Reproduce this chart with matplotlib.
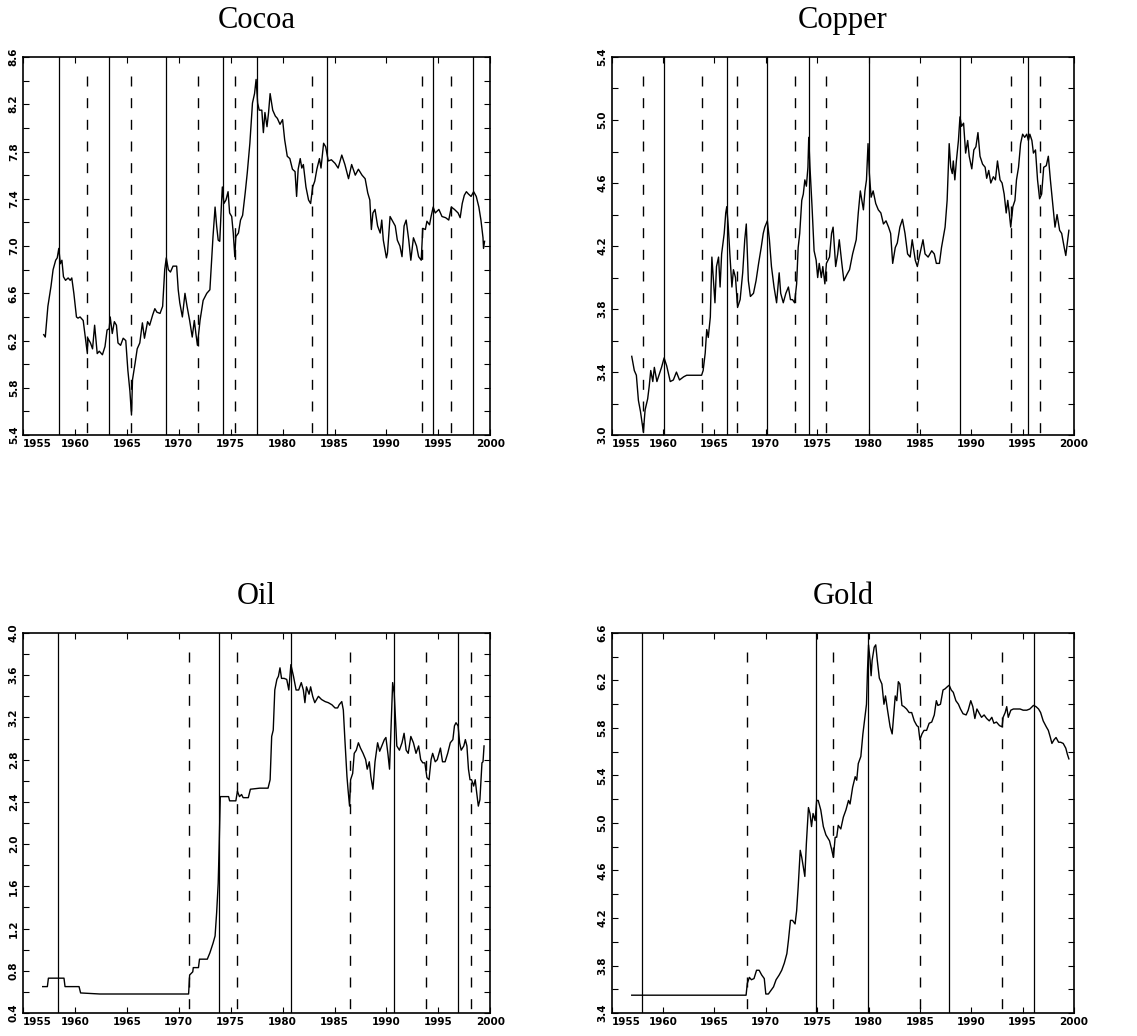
import matplotlib
matplotlib.use("Agg")
import matplotlib.pyplot as plt
import numpy as np

# ---- Cocoa ----
cocoa_year = [1957.0, 1957.15, 1957.4, 1957.7, 1957.9, 1958.15, 1958.3, 1958.45, 1958.6, 1958.75,
              1958.9, 1959.1, 1959.35, 1959.55, 1959.7, 1959.9, 1960.15, 1960.3, 1960.5, 1960.8,
              1961.0, 1961.2, 1961.25, 1961.5, 1961.7, 1961.9, 1962.15, 1962.35, 1962.65, 1962.9,
              1963.1, 1963.3, 1963.4, 1963.6, 1963.8, 1964.0, 1964.15, 1964.4, 1964.65, 1964.9,
              1965.1, 1965.3, 1965.45, 1965.55, 1965.8, 1966.0, 1966.25, 1966.5, 1966.7, 1967.0,
              1967.2, 1967.5, 1967.7, 1967.9, 1968.2, 1968.45, 1968.65, 1968.8, 1969.0, 1969.2,
              1969.45, 1969.8, 1969.95, 1970.1, 1970.35, 1970.6, 1970.8, 1971.05, 1971.3, 1971.5,
              1971.65, 1971.8, 1972.05, 1972.35, 1972.7, 1973.0, 1973.3, 1973.5, 1973.65, 1973.8,
              1973.95, 1974.1, 1974.2, 1974.35, 1974.55, 1974.75, 1974.9, 1975.1, 1975.25, 1975.4,
              1975.5, 1975.75, 1975.95, 1976.15, 1976.4, 1976.6, 1976.85, 1977.1, 1977.3, 1977.45,
              1977.6, 1977.75, 1978.0, 1978.15, 1978.3, 1978.5, 1978.65, 1978.8, 1979.05, 1979.3,
              1979.5, 1979.75, 1980.0, 1980.2, 1980.45, 1980.7, 1980.95, 1981.2, 1981.35, 1981.5,
              1981.7, 1981.85, 1982.0, 1982.25, 1982.5, 1982.7, 1982.9, 1983.1, 1983.3, 1983.55,
              1983.7, 1983.95, 1984.15, 1984.4, 1984.7, 1985.05, 1985.35, 1985.7, 1986.0, 1986.35,
              1986.65, 1987.0, 1987.3, 1987.65, 1987.95, 1988.2, 1988.4, 1988.55, 1988.7, 1988.9,
              1989.15, 1989.4, 1989.55, 1989.7, 1990.0, 1990.1, 1990.35, 1990.6, 1990.85, 1991.05,
              1991.3, 1991.5, 1991.7, 1991.9, 1992.15, 1992.35, 1992.6, 1992.9, 1993.1, 1993.35,
              1993.5, 1993.75, 1993.9, 1994.15, 1994.3, 1994.5, 1994.7, 1995.05, 1995.35, 1995.7,
              1996.0, 1996.25, 1996.55, 1996.9, 1997.1, 1997.3, 1997.5, 1997.7, 1997.9, 1998.15,
              1998.4, 1998.65, 1998.9, 1999.1, 1999.3, 1999.35, 1999.45]
cocoa_val = [6.25, 6.23, 6.49, 6.66, 6.80, 6.88, 6.90, 6.98, 6.85, 6.88,
             6.74, 6.71, 6.73, 6.71, 6.73, 6.60, 6.40, 6.39, 6.40, 6.37,
             6.23, 6.09, 6.22, 6.18, 6.13, 6.33, 6.09, 6.11, 6.08, 6.15,
             6.29, 6.30, 6.40, 6.26, 6.36, 6.33, 6.18, 6.16, 6.22, 6.20,
             5.95, 5.77, 5.57, 5.87, 6.01, 6.13, 6.18, 6.35, 6.22, 6.36,
             6.33, 6.42, 6.47, 6.44, 6.43, 6.49, 6.80, 6.90, 6.80, 6.78,
             6.83, 6.83, 6.63, 6.52, 6.40, 6.60, 6.49, 6.37, 6.23, 6.37,
             6.26, 6.16, 6.37, 6.54, 6.60, 6.63, 7.08, 7.33, 7.17, 7.05,
             7.04, 7.33, 7.50, 7.36, 7.39, 7.46, 7.28, 7.25, 7.11, 6.91,
             7.08, 7.11, 7.22, 7.26, 7.45, 7.62, 7.87, 8.21, 8.29, 8.41,
             8.21, 8.15, 8.15, 7.96, 8.13, 8.01, 8.13, 8.29, 8.15, 8.10,
             8.08, 8.03, 8.07, 7.90, 7.76, 7.74, 7.65, 7.63, 7.42, 7.65,
             7.74, 7.66, 7.69, 7.50, 7.39, 7.36, 7.50, 7.55, 7.65, 7.74,
             7.66, 7.87, 7.84, 7.72, 7.73, 7.70, 7.66, 7.77, 7.69, 7.57,
             7.69, 7.60, 7.65, 7.60, 7.57, 7.45, 7.39, 7.14, 7.28, 7.31,
             7.17, 7.11, 7.22, 7.05, 6.90, 6.94, 7.25, 7.21, 7.17, 7.05,
             7.00, 6.91, 7.17, 7.22, 7.05, 6.88, 7.07, 7.00, 6.91, 6.88,
             7.15, 7.14, 7.21, 7.18, 7.25, 7.33, 7.28, 7.31, 7.25, 7.24,
             7.22, 7.33, 7.31, 7.28, 7.24, 7.36, 7.43, 7.46, 7.44, 7.42,
             7.46, 7.42, 7.33, 7.22, 7.07, 6.98, 7.04]
cocoa_solid = [1958.45, 1963.3, 1968.8, 1974.3, 1977.5, 1984.3, 1994.5, 1998.3]
cocoa_dashed = [1961.2, 1965.45, 1971.9, 1975.4, 1982.8, 1993.4, 1996.2]

# ---- Copper ----
copper_year = [1956.95, 1957.2, 1957.4, 1957.6, 1957.8, 1958.08, 1958.25, 1958.5, 1958.65, 1958.8,
               1959.0, 1959.15, 1959.4, 1959.65, 1959.85, 1960.1, 1960.35, 1960.7, 1961.0, 1961.3,
               1961.6, 1962.0, 1962.3, 1962.95, 1963.75, 1963.9, 1964.1, 1964.25, 1964.4, 1964.6,
               1964.75, 1964.9, 1965.05, 1965.2, 1965.4, 1965.55, 1965.7, 1965.95, 1966.1, 1966.2,
               1966.35, 1966.5, 1966.7, 1966.85, 1967.05, 1967.25, 1967.5, 1967.75, 1967.95, 1968.1,
               1968.3, 1968.5, 1968.8, 1969.05, 1969.3, 1969.55, 1969.75, 1969.9, 1970.15, 1970.35,
               1970.55, 1970.8, 1971.05, 1971.3, 1971.45, 1971.7, 1971.95, 1972.2, 1972.4, 1972.6,
               1972.8, 1973.0, 1973.15, 1973.3, 1973.5, 1973.65, 1973.8, 1973.95, 1974.1, 1974.18,
               1974.3, 1974.5, 1974.7, 1974.9, 1975.05, 1975.2, 1975.4, 1975.55, 1975.75, 1975.9,
               1976.2, 1976.4, 1976.55, 1976.8, 1977.0, 1977.15, 1977.4, 1977.6, 1977.9, 1978.15,
               1978.45, 1978.8, 1979.0, 1979.2, 1979.35, 1979.5, 1979.65, 1979.8, 1979.95, 1980.08,
               1980.25, 1980.45, 1980.7, 1980.95, 1981.2, 1981.45, 1981.7, 1981.95, 1982.15, 1982.35,
               1982.6, 1982.8, 1983.05, 1983.3, 1983.55, 1983.8, 1984.05, 1984.25, 1984.55, 1984.75,
               1985.0, 1985.3, 1985.5, 1985.8, 1986.15, 1986.4, 1986.6, 1986.9, 1987.1, 1987.45,
               1987.65, 1987.85, 1988.0, 1988.15, 1988.25, 1988.4, 1988.55, 1988.75, 1988.9, 1989.05,
               1989.25, 1989.45, 1989.65, 1989.8, 1990.05, 1990.25, 1990.45, 1990.65, 1990.85, 1991.1,
               1991.35, 1991.5, 1991.7, 1991.9, 1992.15, 1992.35, 1992.55, 1992.8, 1993.0, 1993.2,
               1993.4, 1993.55, 1993.7, 1993.84, 1994.05, 1994.25, 1994.4, 1994.6, 1994.8, 1995.0,
               1995.2, 1995.4, 1995.56, 1995.7, 1995.9, 1996.05, 1996.25, 1996.45, 1996.65, 1996.85,
               1997.05, 1997.3, 1997.5, 1997.7, 1997.95, 1998.15, 1998.35, 1998.6, 1998.8, 1999.05,
               1999.2, 1999.35, 1999.5]
copper_val = [3.50, 3.41, 3.38, 3.22, 3.15, 3.02, 3.16, 3.23, 3.31, 3.41,
              3.34, 3.43, 3.34, 3.39, 3.43, 3.49, 3.44, 3.34, 3.35, 3.40,
              3.35, 3.37, 3.38, 3.38, 3.38, 3.41, 3.52, 3.67, 3.62, 3.75,
              4.13, 3.98, 3.84, 4.07, 4.13, 3.94, 4.15, 4.28, 4.41, 4.45,
              4.32, 4.15, 3.94, 4.05, 4.00, 3.81, 3.86, 4.03, 4.24, 4.34,
              3.98, 3.88, 3.90, 3.98, 4.09, 4.19, 4.28, 4.32, 4.36, 4.24,
              4.07, 3.94, 3.84, 4.03, 3.90, 3.84, 3.90, 3.94, 3.86, 3.86,
              3.84, 3.96, 4.19, 4.28, 4.49, 4.53, 4.62, 4.58, 4.70, 4.89,
              4.70, 4.45, 4.17, 4.11, 4.00, 4.09, 4.00, 4.07, 3.96, 4.09,
              4.13, 4.28, 4.32, 4.07, 4.15, 4.24, 4.09, 3.98, 4.02, 4.05,
              4.15, 4.24, 4.41, 4.55, 4.49, 4.43, 4.55, 4.62, 4.85, 4.66,
              4.51, 4.55, 4.47, 4.43, 4.41, 4.34, 4.36, 4.32, 4.28, 4.09,
              4.19, 4.22, 4.32, 4.37, 4.28, 4.15, 4.13, 4.24, 4.11, 4.07,
              4.15, 4.24, 4.15, 4.13, 4.17, 4.15, 4.09, 4.09, 4.19, 4.32,
              4.49, 4.85, 4.70, 4.66, 4.74, 4.62, 4.74, 4.87, 5.02, 4.96,
              4.98, 4.79, 4.87, 4.77, 4.69, 4.81, 4.83, 4.92, 4.77, 4.72,
              4.70, 4.63, 4.68, 4.60, 4.64, 4.62, 4.74, 4.62, 4.60, 4.53,
              4.41, 4.49, 4.41, 4.32, 4.45, 4.49, 4.62, 4.70, 4.85, 4.91,
              4.89, 4.91, 4.87, 4.91, 4.87, 4.79, 4.81, 4.62, 4.50, 4.53,
              4.70, 4.71, 4.77, 4.62, 4.45, 4.32, 4.40, 4.30, 4.28, 4.19,
              4.14, 4.22, 4.30]
copper_solid = [1960.1, 1966.26, 1970.15, 1974.18, 1980.08, 1988.9, 1995.56]
copper_dashed = [1958.08, 1963.83, 1967.23, 1972.8, 1975.86, 1984.75, 1993.84, 1996.7]

# ---- Oil ----
oil_year = [1956.9, 1957.35, 1957.45, 1958.95, 1959.05, 1960.4, 1960.55, 1962.4, 1965.6, 1968.8,
            1970.95, 1971.05, 1971.35, 1971.4, 1971.9, 1972.0, 1972.75, 1973.0, 1973.3, 1973.5,
            1973.65, 1973.8, 1973.9, 1974.0, 1974.8, 1974.9, 1975.5, 1975.65, 1975.85, 1976.05,
            1976.2, 1976.7, 1976.9, 1977.8, 1978.6, 1978.8, 1978.95, 1979.1, 1979.25, 1979.45,
            1979.6, 1979.75, 1979.9, 1980.15, 1980.4, 1980.6, 1980.8, 1981.05, 1981.3, 1981.55,
            1981.8, 1982.0, 1982.15, 1982.3, 1982.55, 1982.7, 1982.9, 1983.1, 1983.45, 1983.75,
            1984.1, 1984.4, 1984.75, 1985.05, 1985.3, 1985.45, 1985.7, 1985.85, 1986.0, 1986.2,
            1986.3, 1986.45, 1986.55, 1986.75, 1986.9, 1987.1, 1987.3, 1987.5, 1987.75, 1988.0,
            1988.15, 1988.35, 1988.5, 1988.7, 1988.9, 1989.15, 1989.35, 1989.55, 1989.8, 1989.95,
            1990.15, 1990.3, 1990.45, 1990.6, 1990.75, 1990.9, 1991.0, 1991.25, 1991.5, 1991.7,
            1991.9, 1992.1, 1992.35, 1992.6, 1992.85, 1993.1, 1993.3, 1993.5, 1993.7, 1993.9,
            1994.1, 1994.3, 1994.45, 1994.7, 1994.9, 1995.2, 1995.4, 1995.65, 1995.9, 1996.15,
            1996.4, 1996.55, 1996.7, 1996.9, 1997.05, 1997.2, 1997.45, 1997.6, 1997.75, 1997.9,
            1998.05, 1998.2, 1998.4, 1998.55, 1998.7, 1998.85, 1999.0, 1999.2, 1999.3, 1999.4]
oil_val = [0.65, 0.65, 0.73, 0.73, 0.65, 0.65, 0.59, 0.58, 0.58, 0.58,
           0.58, 0.76, 0.79, 0.83, 0.83, 0.91, 0.91, 0.97, 1.06, 1.13,
           1.35, 1.63, 2.01, 2.45, 2.45, 2.41, 2.41, 2.50, 2.45, 2.47,
           2.44, 2.44, 2.52, 2.53, 2.53, 2.61, 3.02, 3.08, 3.46, 3.56,
           3.59, 3.67, 3.57, 3.57, 3.56, 3.46, 3.70, 3.59, 3.46, 3.46,
           3.53, 3.46, 3.34, 3.49, 3.42, 3.49, 3.40, 3.34, 3.40, 3.37,
           3.35, 3.34, 3.32, 3.29, 3.29, 3.32, 3.35, 3.27, 2.99, 2.64,
           2.52, 2.36, 2.61, 2.67, 2.86, 2.89, 2.96, 2.91, 2.86, 2.80,
           2.71, 2.78, 2.64, 2.52, 2.78, 2.96, 2.88, 2.93, 2.99, 3.01,
           2.85, 2.71, 3.12, 3.53, 3.43, 3.12, 2.93, 2.89, 2.96, 3.05,
           2.89, 2.86, 3.02, 2.96, 2.86, 2.93, 2.80, 2.77, 2.77, 2.63,
           2.61, 2.80, 2.86, 2.78, 2.80, 2.91, 2.78, 2.78, 2.86, 2.96,
           2.99, 3.12, 3.15, 3.12, 2.96, 2.89, 2.93, 2.99, 2.93, 2.71,
           2.61, 2.61, 2.55, 2.61, 2.48, 2.36, 2.42, 2.77, 2.78, 2.93]
oil_solid = [1958.4, 1973.9, 1980.8, 1990.75, 1996.85]
oil_dashed = [1970.95, 1975.65, 1986.45, 1993.85, 1998.15]

# ---- Gold ----
gold_year = [1956.95, 1968.08, 1968.2, 1968.4, 1968.6, 1968.85, 1969.1, 1969.35, 1969.6, 1969.85,
             1970.0, 1970.25, 1970.5, 1970.75, 1971.0, 1971.3, 1971.55, 1971.8, 1972.05, 1972.2,
             1972.4, 1972.6, 1972.85, 1973.0, 1973.15, 1973.35, 1973.5, 1973.65, 1973.8, 1973.95,
             1974.15, 1974.3, 1974.45, 1974.6, 1974.8, 1974.95, 1975.1, 1975.35, 1975.6, 1975.85,
             1976.2, 1976.4, 1976.58, 1976.75, 1976.9, 1977.05, 1977.3, 1977.55, 1977.8, 1978.05,
             1978.2, 1978.45, 1978.7, 1978.85, 1979.0, 1979.25, 1979.45, 1979.65, 1979.8, 1979.9,
             1980.0, 1980.15, 1980.25, 1980.35, 1980.55, 1980.7, 1980.85, 1981.05, 1981.3, 1981.5,
             1981.65, 1981.85, 1982.1, 1982.3, 1982.4, 1982.6, 1982.75, 1982.9, 1983.05, 1983.25,
             1983.45, 1983.7, 1983.95, 1984.2, 1984.45, 1984.7, 1984.85, 1985.0, 1985.2, 1985.4,
             1985.65, 1985.9, 1986.15, 1986.4, 1986.6, 1986.75, 1987.0, 1987.25, 1987.45, 1987.7,
             1987.85, 1988.05, 1988.25, 1988.5, 1988.75, 1988.95, 1989.2, 1989.5, 1989.7, 1989.95,
             1990.15, 1990.35, 1990.55, 1990.8, 1991.0, 1991.25, 1991.5, 1991.75, 1992.0, 1992.2,
             1992.45, 1992.75, 1993.0, 1993.1, 1993.3, 1993.45, 1993.6, 1993.85, 1994.1, 1994.4,
             1994.75, 1995.05, 1995.4, 1995.7, 1996.05, 1996.3, 1996.55, 1996.75, 1997.0, 1997.3,
             1997.5, 1997.7, 1997.85, 1998.05, 1998.25, 1998.5, 1998.7, 1998.95, 1999.2, 1999.35,
             1999.5]
gold_val = [3.55, 3.55, 3.65, 3.70, 3.68, 3.69, 3.76, 3.76, 3.72, 3.69,
            3.56, 3.56, 3.59, 3.62, 3.68, 3.72, 3.76, 3.82, 3.90, 4.01,
            4.18, 4.18, 4.15, 4.26, 4.46, 4.77, 4.71, 4.63, 4.55, 4.83,
            5.13, 5.08, 4.97, 5.08, 5.02, 5.19, 5.19, 5.11, 4.97, 4.90,
            4.85, 4.78, 4.71, 4.88, 4.88, 4.98, 4.95, 5.05, 5.11, 5.19,
            5.16, 5.30, 5.39, 5.36, 5.50, 5.56, 5.75, 5.89, 6.00, 6.29,
            6.50, 6.37, 6.24, 6.37, 6.48, 6.50, 6.37, 6.22, 6.17, 6.00,
            6.07, 5.95, 5.81, 5.75, 5.86, 6.07, 6.03, 6.19, 6.17, 5.99,
            5.98, 5.96, 5.93, 5.93, 5.86, 5.82, 5.81, 5.70, 5.75, 5.78,
            5.78, 5.84, 5.85, 5.91, 6.03, 5.99, 6.00, 6.12, 6.13, 6.15,
            6.16, 6.12, 6.10, 6.03, 6.00, 5.96, 5.92, 5.91, 5.95, 6.03,
            5.98, 5.88, 5.96, 5.92, 5.89, 5.91, 5.88, 5.86, 5.89, 5.84,
            5.85, 5.82, 5.81, 5.89, 5.93, 5.98, 5.89, 5.95, 5.96, 5.96,
            5.96, 5.95, 5.95, 5.96, 5.99, 5.98, 5.96, 5.93, 5.86, 5.81,
            5.78, 5.72, 5.67, 5.70, 5.72, 5.68, 5.68, 5.67, 5.63, 5.58,
            5.54]
gold_solid = [1957.98, 1974.9, 1979.98, 1987.84, 1996.1]
gold_dashed = [1968.14, 1976.58, 1985.0, 1993.0]

year_ticks = [1955, 1960, 1965, 1970, 1975, 1980, 1985, 1990, 1995, 2000]


def draw_panel(ax, title, years, vals, solid, dashed, ylo, yhi):
    ax.plot(years, vals, color='black', linewidth=1.0)
    for x in solid:
        ax.axvline(x, color='black', linewidth=0.9)
    # dashed breaks: drawn from just under the top down to the bottom
    xt = ax.get_xaxis_transform()
    for x in dashed:
        ax.plot([x, x], [0.95, 0.0], transform=xt, color='black',
                linewidth=1.0, linestyle=(0, (7.2, 8.4)))

    ax.set_xlim(1955, 2000)
    ax.set_ylim(ylo, yhi)
    ax.set_xticks(year_ticks)
    yt = np.round(np.arange(ylo, yhi + 0.001, 0.4), 1)
    ax.set_yticks(yt)
    ax.set_yticklabels(['%.1f' % v for v in yt], rotation=90, va='center')
    ax.set_yticks(np.round(np.arange(ylo, yhi + 0.001, 0.2), 1), minor=True)
    ax.tick_params(which='both', direction='in', top=True, right=True, length=4,
                   labelsize=7.5, pad=3, width=0.8)
    for lab in ax.get_xticklabels() + ax.get_yticklabels():
        lab.set_fontweight('bold')
    ax.get_xticklabels()[0].set_horizontalalignment('left')
    for s in ax.spines.values():
        s.set_linewidth(1.2)
    ax.set_title(title, family='Liberation Serif', fontsize=22, pad=21)


fig = plt.figure(figsize=(11.37, 10.36), dpi=100)
ax1 = fig.add_axes([0.0202, 0.580, 0.411, 0.365])
ax2 = fig.add_axes([0.538, 0.580, 0.4066, 0.365])
ax3 = fig.add_axes([0.0202, 0.0222, 0.411, 0.3668])
ax4 = fig.add_axes([0.538, 0.0222, 0.4066, 0.3668])

draw_panel(ax1, 'Cocoa', cocoa_year, cocoa_val, cocoa_solid, cocoa_dashed, 5.4, 8.6)
draw_panel(ax2, 'Copper', copper_year, copper_val, copper_solid, copper_dashed, 3.0, 5.4)
draw_panel(ax3, 'Oil', oil_year, oil_val, oil_solid, oil_dashed, 0.4, 4.0)
draw_panel(ax4, 'Gold', gold_year, gold_val, gold_solid, gold_dashed, 3.4, 6.6)

plt.savefig('out.png', dpi=100)
